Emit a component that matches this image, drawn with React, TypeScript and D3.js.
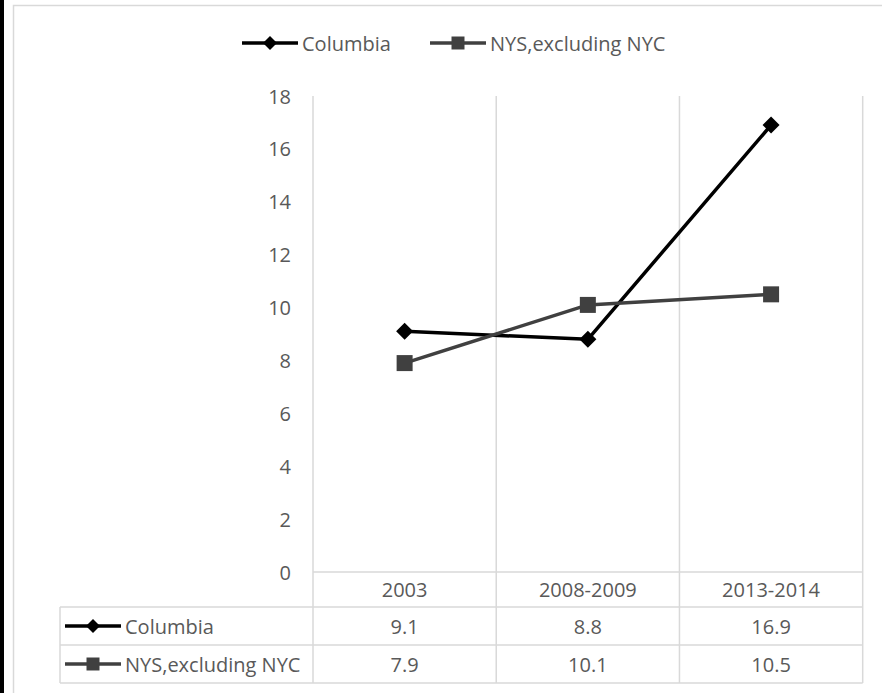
import React from "react";
import * as d3 from "d3";

const categories = ["2003", "2008-2009", "2013-2014"];
const seriesNames = ["Columbia", "NYS,excluding NYC"];
const columbiaValues = [9.1, 8.8, 16.9];
const nysValues = [7.9, 10.1, 10.5];
const yTicks = [0, 2, 4, 6, 8, 10, 12, 14, 16, 18];

const W = 882;
const H = 693;
const FONT = "'Open Sans', sans-serif";
const TEXT = "#595959";
const GRID = "#d9d9d9";
const COLORS = ["#000000", "#404040"];

const plotLeft = 313;
const plotRight = 862.7;
const plotTop = 96;
const plotBottom = 572;
const tableLeft = 60;
const rowH = [35, 38, 38];

function markerPath(kind: string, size: number) {
  const h = size / 2;
  if (kind === "diamond") return `M0,${-h}L${h},0L0,${h}L${-h},0Z`;
  return `M${-h},${-h}H${h}V${h}H${-h}Z`;
}

function Key({ x, y, i }: { x: number; y: number; i: number }) {
  const kind = i === 0 ? "diamond" : "square";
  return (
    <g>
      <line x1={x} x2={x + 56} y1={y} y2={y} stroke={COLORS[i]} strokeWidth={3.5} />
      <path d={markerPath(kind, i === 0 ? 14 : 13)} transform={`translate(${x + 28},${y})`} fill={COLORS[i]} />
    </g>
  );
}

export default function App() {
  const x = d3.scaleBand<string>().domain(categories).range([plotLeft, plotRight]).padding(0);
  const y = d3.scaleLinear().domain([0, 18]).range([plotBottom, plotTop]);
  const cx = (c: string) => (x(c) as number) + x.bandwidth() / 2;
  const series = [columbiaValues, nysValues];
  const line = d3
    .line<number>()
    .x((_, i) => cx(categories[i]))
    .y((d) => y(d));

  const row0 = plotBottom;
  const row1 = row0 + rowH[0];
  const row2 = row1 + rowH[1];
  const row3 = row2 + rowH[2];
  const boundaries = [plotLeft, ...categories.map((c) => (x(c) as number) + x.bandwidth())];

  return (
    <div style={{ position: "absolute", left: 0, top: 0, width: W, height: H, overflow: "hidden" }}>
      <svg width={W} height={H} style={{ display: "block", background: "#fff" }}>
        <rect x={0} y={0} width={4} height={H} fill="#000" />
        <rect x={13.5} y={5.5} width={W + 20} height={H + 20} fill="none" stroke={GRID} strokeWidth={1.5} />

        {/* legend */}
        <Key x={242} y={43} i={0} />
        <text x={302} y={43} dominantBaseline="central" fontFamily={FONT} fontSize={20} fill={TEXT}>
          {seriesNames[0]}
        </text>
        <Key x={430} y={43} i={1} />
        <text x={490} y={43} dominantBaseline="central" fontFamily={FONT} fontSize={20} fill={TEXT}>
          {seriesNames[1]}
        </text>

        {/* vertical gridlines / table columns */}
        {boundaries.map((bx, i) => (
          <line key={i} x1={bx} x2={bx} y1={plotTop} y2={row3} stroke={GRID} strokeWidth={1.5} />
        ))}
        <line x1={tableLeft} x2={tableLeft} y1={row1} y2={row3} stroke={GRID} strokeWidth={1.5} />
        <line x1={plotLeft} x2={plotRight} y1={row0} y2={row0} stroke={GRID} strokeWidth={1.5} />
        {[row1, row2, row3].map((ry, i) => (
          <line key={i} x1={tableLeft} x2={plotRight} y1={ry} y2={ry} stroke={GRID} strokeWidth={1.5} />
        ))}

        {/* y ticks */}
        {yTicks.map((t) => (
          <text key={t} x={291} y={y(t)} textAnchor="end" dominantBaseline="central" fontFamily={FONT} fontSize={20} fill={TEXT}>
            {t}
          </text>
        ))}

        {/* lines */}
        {series.map((vals, i) => (
          <g key={i}>
            <path d={line(vals) || ""} fill="none" stroke={COLORS[i]} strokeWidth={3.5} strokeLinejoin="round" />
            {vals.map((v, j) => (
              <path
                key={j}
                d={markerPath(i === 0 ? "diamond" : "square", i === 0 ? 17 : 16)}
                transform={`translate(${cx(categories[j])},${y(v)})`}
                fill={COLORS[i]}
              />
            ))}
          </g>
        ))}

        {/* table */}
        {categories.map((c) => (
          <text key={c} x={cx(c)} y={(row0 + row1) / 2} textAnchor="middle" dominantBaseline="central" fontFamily={FONT} fontSize={20} fill={TEXT}>
            {c}
          </text>
        ))}
        {series.map((vals, i) => {
          const top = i === 0 ? row1 : row2;
          const bot = i === 0 ? row2 : row3;
          const my = (top + bot) / 2;
          return (
            <g key={i}>
              <Key x={65} y={my} i={i} />
              <text x={125} y={my} dominantBaseline="central" fontFamily={FONT} fontSize={20} fill={TEXT}>
                {seriesNames[i]}
              </text>
              {vals.map((v, j) => (
                <text key={j} x={cx(categories[j])} y={my} textAnchor="middle" dominantBaseline="central" fontFamily={FONT} fontSize={20} fill={TEXT}>
                  {v.toFixed(1)}
                </text>
              ))}
            </g>
          );
        })}
      </svg>
    </div>
  );
}
